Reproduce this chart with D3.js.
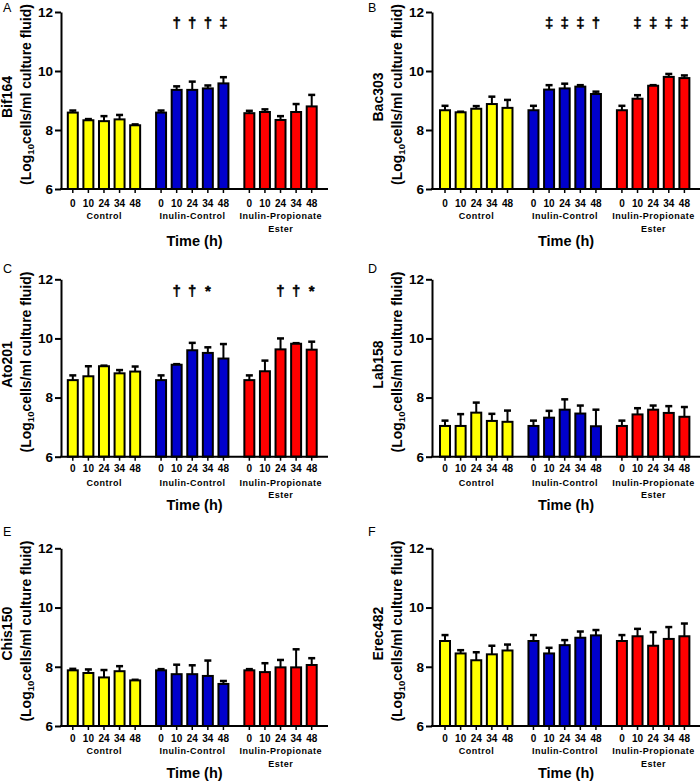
<!DOCTYPE html>
<html>
<head>
<meta charset="utf-8">
<script src="https://cdn.jsdelivr.net/npm/d3@7/dist/d3.min.js"></script>
<style>
  html, body { margin: 0; padding: 0; background: #fff; }
  svg { display: block; font-family: "Liberation Sans", Arial, sans-serif; }
</style>
</head>
<body>
<svg id="chart" width="700" height="783"></svg>
<script>
// ---------- data ----------
const groups = ["Control", "Inulin-Control", "Inulin-Propionate Ester"];
const times = ["0", "10", "24", "34", "48"];
const groupColors = ["#ffff00", "#0000cc", "#ff0000"];
const yTicks = [6, 8, 10, 12];
const panelLetters = ["A", "B", "C", "D", "E", "F"];
const probes = ["Bif164", "Bac303", "Ato201", "Lab158", "Chis150", "Erec482"];

// means: Control(0..48), Inulin-Control(0..48), Inulin-Propionate Ester(0..48)
const bif164Mean = [8.59, 8.33, 8.30, 8.36, 8.16, 8.59, 9.36, 9.36, 9.41, 9.58, 8.57, 8.61, 8.34, 8.61, 8.80];
const bif164Err  = [0.07, 0.04, 0.17, 0.15, 0.03, 0.07, 0.12, 0.28, 0.10, 0.21, 0.08, 0.09, 0.13, 0.27, 0.39];
const bif164Sig  = ["", "", "", "", "", "", "†", "†", "†", "‡", "", "", "", "", ""];

const bac303Mean = [8.67, 8.60, 8.72, 8.88, 8.75, 8.67, 9.37, 9.41, 9.47, 9.22, 8.67, 9.06, 9.50, 9.80, 9.76];
const bac303Err  = [0.15, 0.02, 0.09, 0.25, 0.27, 0.15, 0.15, 0.16, 0.05, 0.08, 0.15, 0.12, 0.02, 0.10, 0.09];
const bac303Sig  = ["", "", "", "", "", "", "‡", "‡", "‡", "†", "", "‡", "‡", "‡", "‡"];

const ato201Mean = [8.59, 8.72, 9.06, 8.82, 8.88, 8.59, 9.11, 9.60, 9.51, 9.32, 8.59, 8.89, 9.63, 9.82, 9.62];
const ato201Err  = [0.16, 0.34, 0.02, 0.11, 0.17, 0.16, 0.02, 0.25, 0.19, 0.49, 0.16, 0.36, 0.37, 0.02, 0.27];
const ato201Sig  = ["", "", "", "", "", "", "†", "†", "*", "", "", "", "†", "†", "*"];

const lab158Mean = [7.04, 7.04, 7.49, 7.21, 7.18, 7.04, 7.32, 7.59, 7.46, 7.03, 7.04, 7.43, 7.59, 7.48, 7.35];
const lab158Err  = [0.18, 0.40, 0.34, 0.24, 0.38, 0.18, 0.23, 0.35, 0.27, 0.56, 0.18, 0.21, 0.14, 0.23, 0.33];
const lab158Sig  = ["", "", "", "", "", "", "", "", "", "", "", "", "", "", ""];

const chis150Mean = [7.88, 7.79, 7.64, 7.85, 7.54, 7.88, 7.75, 7.75, 7.69, 7.42, 7.88, 7.82, 7.98, 7.98, 8.06];
const chis150Err  = [0.05, 0.12, 0.25, 0.17, 0.02, 0.04, 0.32, 0.30, 0.52, 0.10, 0.04, 0.30, 0.25, 0.61, 0.23];
const chis150Sig  = ["", "", "", "", "", "", "", "", "", "", "", "", "", "", ""];

const erec482Mean = [8.87, 8.45, 8.22, 8.42, 8.55, 8.87, 8.45, 8.73, 8.98, 9.06, 8.87, 9.03, 8.71, 8.94, 9.03];
const erec482Err  = [0.20, 0.11, 0.27, 0.29, 0.20, 0.20, 0.19, 0.17, 0.21, 0.18, 0.20, 0.25, 0.46, 0.40, 0.43];
const erec482Sig  = ["", "", "", "", "", "", "", "", "", "", "", "", "", "", ""];

const panelMeans = [bif164Mean, bac303Mean, ato201Mean, lab158Mean, chis150Mean, erec482Mean];
const panelErrs  = [bif164Err, bac303Err, ato201Err, lab158Err, chis150Err, erec482Err];
const panelSigs  = [bif164Sig, bac303Sig, ato201Sig, lab158Sig, chis150Sig, erec482Sig];

// ---------- layout ----------
const cols = [
  { axisX: 61,  barStart: 65,    barEnd: 319.5, axisEnd: 328, letterX: 3 },
  { axisX: 432, barStart: 437.2, barEnd: 692.2, axisEnd: 700, letterX: 368 }
];
const rows = [
  { top: 12,    bottom: 189,   tick: 17.5, grp: 30, ester: 43,   time: 57, letterY: 11.7 },
  { top: 279.3, bottom: 456.7, tick: 15.5, grp: 29, ester: 41,   time: 53, letterY: 272.5 },
  { top: 548.3, bottom: 726,   tick: 15.7, grp: 28, ester: 40.5, time: 52, letterY: 536 }
];

const svg = d3.select("#chart");

panelLetters.forEach((letter, p) => {
  const col = cols[p % 2];
  const row = rows[Math.floor(p / 2)];
  const means = panelMeans[p], errs = panelErrs[p], sigs = panelSigs[p];
  const g = svg.append("g");

  const y = d3.scaleLinear().domain([6, 12]).range([row.bottom, row.top]);
  const outer = d3.scaleBand().domain(groups).range([col.barStart, col.barEnd])
    .paddingInner(0.117).paddingOuter(0);
  const inner = d3.scaleBand().domain(times).range([0, outer.bandwidth()])
    .paddingInner(0.36).paddingOuter(0.18);

  const data = [];
  groups.forEach((grp, gi) => times.forEach((t, ti) => {
    const k = gi * times.length + ti;
    data.push({ grp, gi, t, mean: means[k], err: errs[k], sig: sigs[k] });
  }));
  const cx = d => outer(d.grp) + inner(d.t) + inner.bandwidth() / 2;

  // error bars (upper only)
  g.selectAll(".eb").data(data).enter().append("line")
    .attr("x1", cx).attr("x2", cx)
    .attr("y1", d => y(d.mean)).attr("y2", d => y(d.mean + d.err))
    .attr("stroke", "#000").attr("stroke-width", 2);
  g.selectAll(".cap").data(data).enter().append("line")
    .attr("x1", d => cx(d) - 3.5).attr("x2", d => cx(d) + 3.5)
    .attr("y1", d => y(d.mean + d.err)).attr("y2", d => y(d.mean + d.err))
    .attr("stroke", "#000").attr("stroke-width", 2.5);

  // bars
  g.selectAll(".bar").data(data).enter().append("rect")
    .attr("x", d => outer(d.grp) + inner(d.t))
    .attr("width", inner.bandwidth())
    .attr("y", d => y(d.mean))
    .attr("height", d => y(6) - y(d.mean))
    .attr("fill", d => groupColors[d.gi])
    .attr("stroke", "#000").attr("stroke-width", 2);

  // significance symbols
  g.selectAll(".sig").data(data.filter(d => d.sig)).enter().append("text")
    .attr("x", cx).attr("y", y(11.45))
    .attr("text-anchor", "middle")
    .attr("font-size", 15).attr("font-weight", "bold").attr("fill", "#000")
    .attr("stroke", "#000").attr("stroke-width", 0.4)
    .text(d => d.sig);

  // y axis
  const ya = g.append("g").attr("transform", `translate(${col.axisX},0)`)
    .call(d3.axisLeft(y).tickValues(yTicks).tickSize(6).tickSizeOuter(0).tickPadding(2)
      .tickFormat(d3.format("d")));
  ya.select(".domain").attr("stroke-width", 2);
  ya.selectAll(".tick line").attr("stroke-width", 2);
  ya.selectAll(".tick text").attr("font-size", 13.5).attr("font-weight", "bold")
    .attr("font-family", "Liberation Sans, Arial, sans-serif").attr("fill", "#000");

  // x axis line
  g.append("line").attr("x1", col.axisX - 1).attr("x2", col.axisEnd)
    .attr("y1", row.bottom).attr("y2", row.bottom)
    .attr("stroke", "#000").attr("stroke-width", 2);

  // x ticks per group
  groups.forEach((grp, gi) => {
    const xa = g.append("g").attr("transform", `translate(${outer(grp)},${row.bottom})`)
      .call(d3.axisBottom(inner).tickSize(4).tickSizeOuter(0));
    xa.select(".domain").remove();
    xa.selectAll(".tick line").attr("stroke-width", 1.5);
    xa.selectAll(".tick text").attr("y", row.tick).attr("dy", 0)
      .attr("font-size", 10).attr("font-weight", "bold")
      .attr("font-family", "Liberation Sans, Arial, sans-serif").attr("fill", "#000");

    const gc = outer(grp) + outer.bandwidth() / 2;
    const parts = grp === "Inulin-Propionate Ester" ? ["Inulin-Propionate", "Ester"] : [grp];
    parts.forEach((txt, li) => {
      g.append("text").attr("x", gc + 0.25)
        .attr("y", row.bottom + (li === 0 ? row.grp : row.ester))
        .attr("text-anchor", "middle").attr("font-size", 9).attr("font-weight", "bold")
        .attr("letter-spacing", 0.5)
        .text(txt);
    });
  });

  // x title
  g.append("text").attr("x", (col.axisX + col.axisEnd) / 2).attr("y", row.bottom + row.time)
    .attr("text-anchor", "middle").attr("font-size", 14.5).attr("font-weight", "bold")
    .text("Time (h)");

  // y title
  const midY = (row.top + row.bottom) / 2;
  g.append("text")
    .attr("transform", `translate(${col.axisX - 49.5},${midY - 3.5}) rotate(-90)`)
    .attr("text-anchor", "middle").attr("font-size", 14).attr("font-weight", "bold")
    .text(probes[p]);
  const t2 = g.append("text")
    .attr("transform", `translate(${col.axisX - 30},${midY - 6}) rotate(-90)`)
    .attr("text-anchor", "middle").attr("font-size", 14).attr("font-weight", "bold");
  t2.append("tspan").text("(Log");
  t2.append("tspan").attr("font-size", 9.5).attr("dy", 3).text("10");
  t2.append("tspan").attr("dy", -3).text("cells/ml culture fluid)");

  // panel letter
  g.append("text").attr("x", col.letterX).attr("y", row.letterY)
    .attr("font-size", 12.5).text(letter);
});
</script>
</body>
</html>
